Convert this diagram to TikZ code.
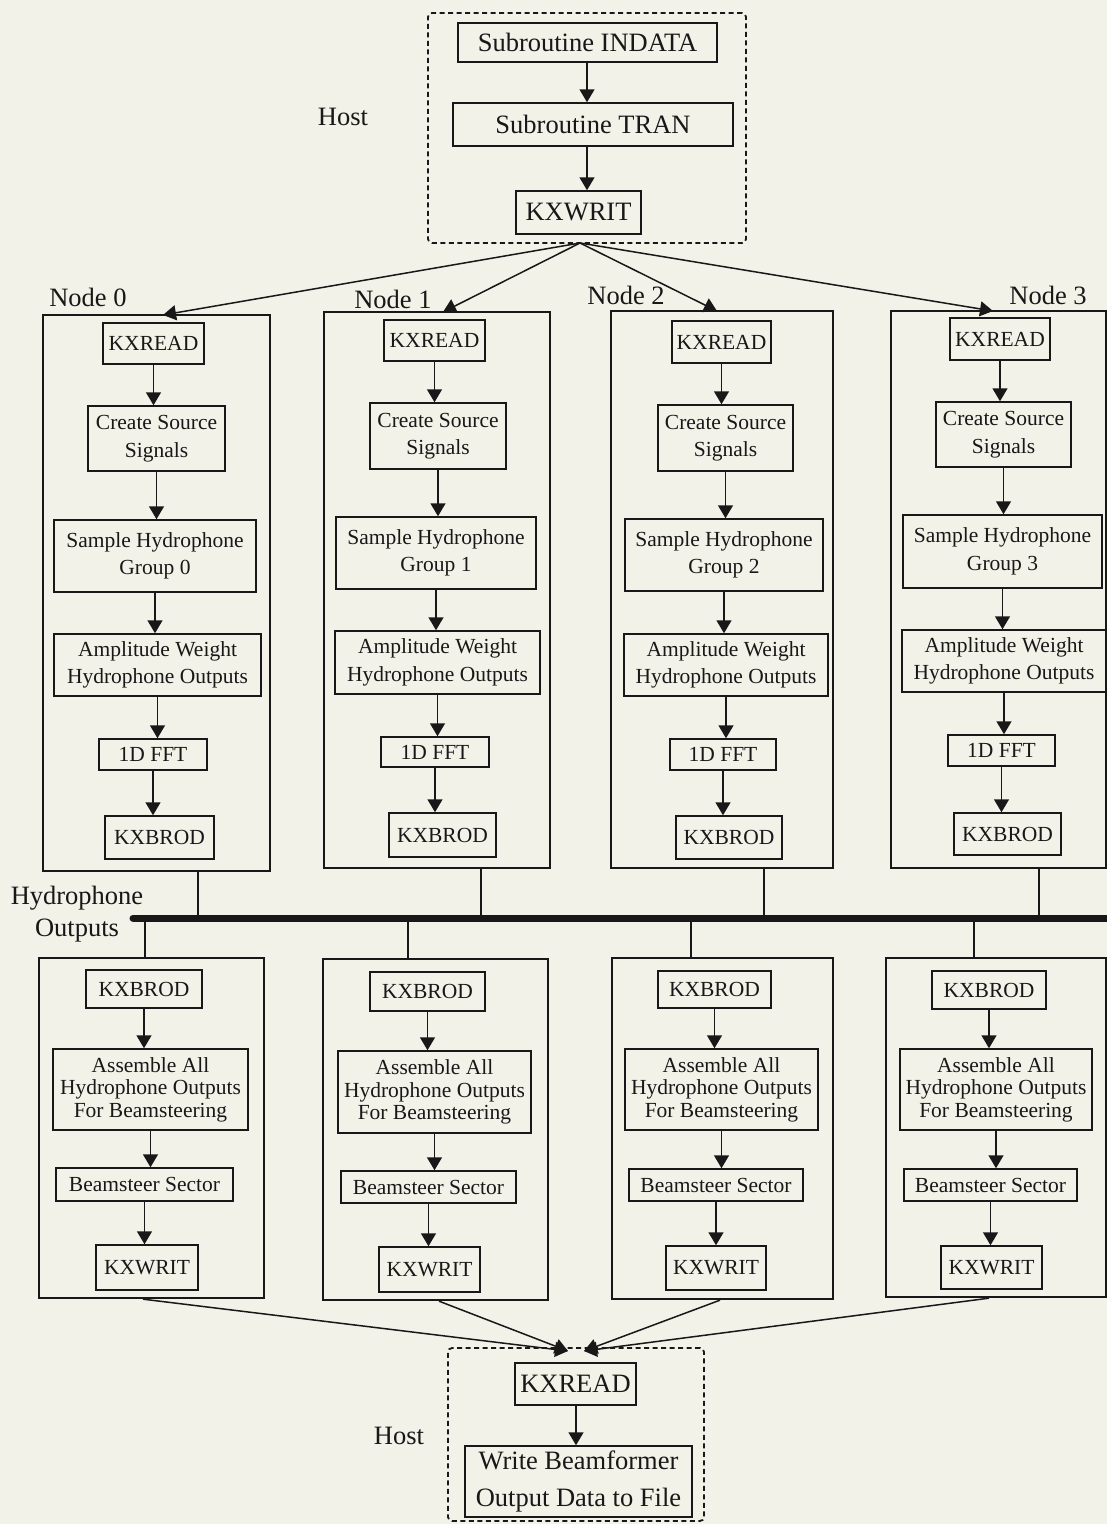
\documentclass[tikz,border=0pt]{standalone}
\usepackage{fontspec}
\setmainfont{Liberation Serif}
\usetikzlibrary{arrows.meta}
\definecolor{paper}{RGB}{243,242,232}
\definecolor{ink}{RGB}{24,24,24}

% box from its corner coordinates: style, name, x1, y1, x2, y2, text
\newcommand{\pbox}[7]{\node[#1, minimum width={(#5-#3)*1pt}, minimum height={(#6-#4)*1pt}] (#2) at ({(#3+#5)/2},{(#4+#6)/2}) {#7};}

\begin{document}
\begin{tikzpicture}[x=1pt,y=-1pt,
  obox/.style={draw=ink, line width=2.3pt, inner sep=0pt},
  ibox/.style={draw=ink, line width=1.5pt, inner sep=0pt, align=center, text=ink,
    font=\fontsize{21.5}{27.5}\selectfont},
  tight/.style={font=\fontsize{21.5}{22.5}\selectfont},
  hbox/.style={draw=ink, line width=1.5pt, inner sep=0pt, align=center, text=ink,
    font=\fontsize{26.5}{37}\selectfont},
  dbox/.style={draw=ink, line width=1.8pt, dash pattern=on 5pt off 3.5pt, rounded corners=4pt, inner sep=0pt},
  lbl/.style={text=ink, inner sep=0pt, align=center, font=\fontsize{26.5}{32}\selectfont},
  arr/.style={draw=ink, line width=1.5pt, -{Triangle[length=13pt,width=15pt]}},
  wire/.style={draw=ink, line width=1.5pt},
  bus/.style={draw=ink, line width=7pt, line cap=round}]

\fill[paper] (0,0) rectangle (1107,1524);
\useasboundingbox (0,0) rectangle (1107,1524);

% ---------------- host: input side ----------------
\pbox{dbox}{hostA}{428}{13}{746}{243}{}
\pbox{hbox}{indata}{458}{23}{717}{62}{Subroutine INDATA}
\pbox{hbox}{tran}{453}{103}{733}{146}{Subroutine TRAN}
\pbox{hbox}{hwrit}{516}{191}{641}{234}{KXWRIT}
\node[lbl] (hostlblA) at (343,117) {Host};
\draw[arr] (indata.south -| 587,0) -- (tran.north -| 587,0);
\draw[arr] (tran.south -| 587,0) -- (hwrit.north -| 587,0);

% ---------------- nodes: signal generation ----------------
\pbox{obox}{c0}{43}{315}{270}{871}{}
\pbox{ibox}{r0}{103}{323}{204}{364}{KXREAD}
\pbox{ibox}{g0}{88}{406}{225}{471}{Create Source\\Signals}
\pbox{ibox}{s0}{54}{520}{256}{592}{Sample Hydrophone\\Group 0}
\pbox{ibox}{a0}{54}{634}{261}{696}{Amplitude Weight\\Hydrophone Outputs}
\pbox{ibox}{f0}{99}{739}{207}{770}{1D FFT}
\pbox{ibox}{b0}{105}{816}{214}{859}{KXBROD}

\pbox{obox}{c1}{324}{312}{550}{868}{}
\pbox{ibox}{r1}{384}{320}{485}{361}{KXREAD}
\pbox{ibox}{g1}{370}{403}{506}{469}{Create Source\\Signals}
\pbox{ibox}{s1}{336}{517}{536}{589}{Sample Hydrophone\\Group 1}
\pbox{ibox}{a1}{335}{631}{540}{694}{Amplitude Weight\\Hydrophone Outputs}
\pbox{ibox}{f1}{381}{737}{489}{767}{1D FFT}
\pbox{ibox}{b1}{389}{813}{496}{857}{KXBROD}

\pbox{obox}{c2}{611}{311}{833}{868}{}
\pbox{ibox}{r2}{672}{321}{771}{363}{KXREAD}
\pbox{ibox}{g2}{658}{405}{793}{471}{Create Source\\Signals}
\pbox{ibox}{s2}{625}{519}{823}{591}{Sample Hydrophone\\Group 2}
\pbox{ibox}{a2}{624}{634}{828}{696}{Amplitude Weight\\Hydrophone Outputs}
\pbox{ibox}{f2}{670}{739}{776}{770}{1D FFT}
\pbox{ibox}{b2}{676}{816}{782}{859}{KXBROD}

\pbox{obox}{c3}{891}{311}{1106}{868}{}
\pbox{ibox}{r3}{950}{318}{1050}{360}{KXREAD}
\pbox{ibox}{g3}{936}{402}{1071}{467}{Create Source\\Signals}
\pbox{ibox}{s3}{903}{515}{1102}{588}{Sample Hydrophone\\Group 3}
\pbox{ibox}{a3}{902}{630}{1106}{692}{Amplitude Weight\\Hydrophone Outputs}
\pbox{ibox}{f3}{948}{735}{1055}{766}{1D FFT}
\pbox{ibox}{b3}{954}{813}{1061}{855}{KXBROD}

\foreach \i in {0,1,2,3}{
  \draw[arr] (r\i.south) -- (r\i.south |- g\i.north);
  \draw[arr] (g\i.south) -- (g\i.south |- s\i.north);
  \draw[arr] (s\i.south) -- (s\i.south |- a\i.north);
  \draw[arr] (a\i.south) -- (a\i.south |- f\i.north);
  \draw[arr] (f\i.south) -- (f\i.south |- b\i.north);
}

\node[lbl] (nl0) at (88,297) {Node 0};
\node[lbl] (nl1) at (393,299) {Node 1};
\node[lbl] (nl2) at (626,295) {Node 2};
\node[lbl] (nl3) at (1048,295) {Node 3};

% fan-out from the host to the four nodes
\coordinate (fan) at (580,243);
\coordinate (t0) at (163,315);
\coordinate (t1) at (443,312);
\coordinate (t2) at (717,311);
\coordinate (t3) at (993,311);
\foreach \i in {0,1,2,3}{\draw[arr] (fan) -- (t\i);}

% ---------------- hydrophone output bus ----------------
\coordinate (busL) at (133,918);
\coordinate (busR) at (1112,918);
\draw[bus] (busL) -- (busR);
\node[lbl] (buslbl) at (77,914) {Hydrophone\\Outputs};

\coordinate (u0) at (198,918);
\coordinate (u1) at (481,918);
\coordinate (u2) at (764,918);
\coordinate (u3) at (1039,918);
\foreach \i in {0,1,2,3}{\draw[wire] (u\i |- c\i.south) -- (u\i);}

% ---------------- nodes: beamsteering ----------------
\pbox{obox}{L0}{39}{958}{264}{1298}{}
\pbox{ibox}{lb0}{86}{970}{202}{1008}{KXBROD}
\pbox{ibox,tight}{la0}{53}{1049}{248}{1130}{Assemble All\\Hydrophone Outputs\\For Beamsteering}
\pbox{ibox}{ls0}{56}{1168}{233}{1201}{Beamsteer Sector}
\pbox{ibox}{lw0}{96}{1245}{198}{1290}{KXWRIT}

\pbox{obox}{L1}{323}{959}{548}{1300}{}
\pbox{ibox}{lb1}{370}{972}{485}{1011}{KXBROD}
\pbox{ibox,tight}{la1}{338}{1051}{531}{1133}{Assemble All\\Hydrophone Outputs\\For Beamsteering}
\pbox{ibox}{ls1}{341}{1171}{516}{1203}{Beamsteer Sector}
\pbox{ibox}{lw1}{379}{1247}{480}{1292}{KXWRIT}

\pbox{obox}{L2}{612}{958}{833}{1299}{}
\pbox{ibox}{lb2}{658}{971}{771}{1008}{KXBROD}
\pbox{ibox,tight}{la2}{625}{1049}{818}{1130}{Assemble All\\Hydrophone Outputs\\For Beamsteering}
\pbox{ibox}{ls2}{629}{1169}{803}{1201}{Beamsteer Sector}
\pbox{ibox}{lw2}{666}{1246}{766}{1290}{KXWRIT}

\pbox{obox}{L3}{886}{958}{1106}{1297}{}
\pbox{ibox}{lb3}{932}{971}{1046}{1009}{KXBROD}
\pbox{ibox,tight}{la3}{900}{1049}{1092}{1130}{Assemble All\\Hydrophone Outputs\\For Beamsteering}
\pbox{ibox}{ls3}{904}{1169}{1077}{1201}{Beamsteer Sector}
\pbox{ibox}{lw3}{941}{1246}{1042}{1289}{KXWRIT}

\coordinate (d0) at (145,918);
\coordinate (d1) at (408,918);
\coordinate (d2) at (691,918);
\coordinate (d3) at (974,918);
\foreach \i in {0,1,2,3}{
  \draw[wire] (d\i) -- (d\i |- L\i.north);
  \draw[arr] (lb\i.south) -- (lb\i.south |- la\i.north);
  \draw[arr] (la\i.south) -- (la\i.south |- ls\i.north);
  \draw[arr] (ls\i.south) -- (ls\i.south |- lw\i.north);
}

% ---------------- host: output side ----------------
\pbox{dbox}{hostB}{448}{1348}{704}{1521}{}
\pbox{hbox}{hread}{515}{1363}{636}{1405}{KXREAD}
\pbox{hbox}{hfile}{465}{1446}{692}{1517}{Write Beamformer\\Output Data to File}
\node[lbl] (hostlblB) at (399,1436) {Host};
\draw[arr] (hread.south -| 576,0) -- (hfile.north -| 576,0);

% fan-in from the four nodes to the host
\coordinate (inL) at (568,1351);
\coordinate (inR) at (584,1351);
\draw[arr] (L0.south -| 143,0) -- (inL);
\draw[arr] (L1.south -| 439,0) -- (inL);
\draw[arr] (L2.south -| 720,0) -- (inR);
\draw[arr] (L3.south -| 989,0) -- (inR);

\end{tikzpicture}
\end{document}
